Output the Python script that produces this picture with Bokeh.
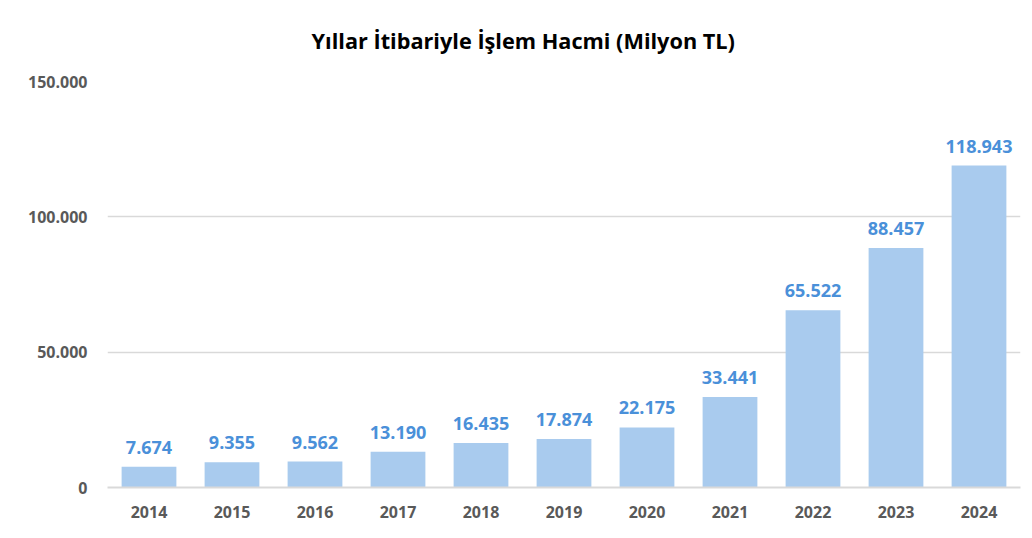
from bokeh.plotting import figure
from bokeh.models import ColumnDataSource, CustomJSTickFormatter, LabelSet
from bokeh.core.properties import value
from bokeh.embed import file_html
from bokeh.resources import INLINE

years = ["2014", "2015", "2016", "2017", "2018", "2019", "2020", "2021", "2022", "2023", "2024"]
values = [7674, 9355, 9562, 13190, 16435, 17874, 22175, 33441, 65522, 88457, 118943]
labels = ["7.674", "9.355", "9.562", "13.190", "16.435", "17.874", "22.175", "33.441", "65.522", "88.457", "118.943"]
yticks = [0, 50000, 100000, 150000]
title_text = "Yıllar İtibariyle İşlem Hacmi (Milyon TL)"

FONT = "Open Sans"

src = ColumnDataSource(dict(x=years, top=values, lab=labels))

p = figure(x_range=years, y_range=(0, 150000), width=1024, height=522,
           output_backend="svg", toolbar_location=None, title=title_text)
p.min_border_left = 107
p.min_border_right = 4
p.min_border_bottom = 35
p.min_border_top = 78

p.title.align = "left"
p.title.vertical_align = "top"
p.title.offset = 204
p.title.standoff = 50
p.title.text_font = FONT
p.title.text_font_size = "21.7px"
p.title.text_font_style = "bold"
p.title.text_color = "#000000"

p.vbar(x="x", top="top", width=0.66, source=src, color="#a9cbee", line_color=None)

p.add_layout(LabelSet(x="x", y="top", text="lab", source=src, text_align="center",
                      text_baseline="bottom", y_offset=13, text_font=value(FONT),
                      text_font_size=value("18px"), text_font_style="bold", text_color="#4a90d9"))

p.outline_line_color = None
p.xgrid.grid_line_color = None
p.ygrid.grid_line_color = "#d9d9d9"
p.ygrid.grid_line_width = 1.5
p.ygrid.ticker = yticks

p.yaxis.ticker = yticks
p.yaxis.formatter = CustomJSTickFormatter(code="return tick.toFixed(0).replace(/\\B(?=(\\d{3})+(?!\\d))/g, '.');")
p.yaxis.axis_line_color = None
p.yaxis.major_tick_line_color = None
p.yaxis.minor_tick_line_color = None
p.yaxis.major_label_standoff = 14

p.xaxis.axis_line_color = "#d9d9d9"
p.xaxis.axis_line_width = 2
p.xaxis.major_tick_line_color = None
p.xaxis.minor_tick_line_color = None
p.xaxis.major_label_standoff = 12

for ax in (p.xaxis, p.yaxis):
    ax.major_label_text_font = FONT
    ax.major_label_text_font_size = "16px"
    ax.major_label_text_font_style = "bold"
    ax.major_label_text_color = "#595959"

p.x_range.range_padding = 0
p.background_fill_color = "white"
p.border_fill_color = "white"

open("out.html", "w").write(file_html(p, INLINE))
